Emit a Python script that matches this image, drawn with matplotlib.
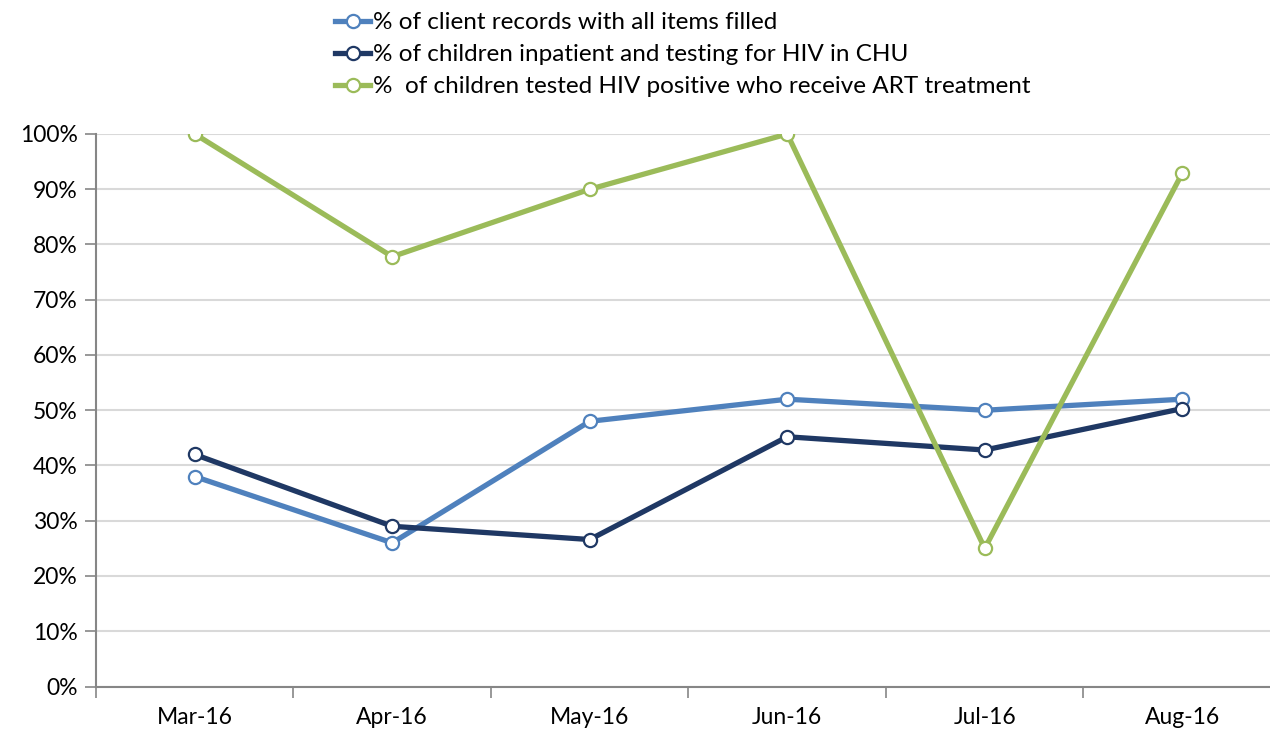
import matplotlib
matplotlib.use("Agg")
import matplotlib.pyplot as plt
from matplotlib.ticker import PercentFormatter

months = ["Mar-16", "Apr-16", "May-16", "Jun-16", "Jul-16", "Aug-16"]
records_filled = [0.38, 0.26, 0.48, 0.52, 0.50, 0.52]
inpatient_tested = [0.42, 0.29, 0.266, 0.452, 0.428, 0.503]
art_treatment = [1.00, 0.778, 0.90, 1.00, 0.25, 0.929]

labels = [
    "% of client records with all items filled",
    "% of children inpatient and testing for HIV in CHU",
    "%  of children tested HIV positive who receive ART treatment",
]
colors = ["#4F81BD", "#1F3864", "#9BBB59"]

plt.rcParams["font.family"] = ["Lato", "DejaVu Sans"]

fig = plt.figure(figsize=(12.7, 7.33), dpi=100)
ax = fig.add_axes([96 / 1270, 46.5 / 733, 1185 / 1270, 552.5 / 733])

x = range(len(months))
for vals, lab, col in zip([records_filled, inpatient_tested, art_treatment], labels, colors):
    ax.plot(x, vals, color=col, lw=3.8, marker="o", ms=9.5, mfc="white",
            mec=col, mew=1.6, label=lab, zorder=3)

ax.set_xlim(-0.5, len(months) - 0.5)
ax.set_ylim(0, 1)
ax.set_yticks([i / 10 for i in range(11)])
ax.yaxis.set_major_formatter(PercentFormatter(1.0, decimals=0))
ax.set_xticks(list(x))
ax.set_xticklabels(months)
ax.set_xticks([i - 0.5 for i in range(len(months) + 1)], minor=True)
ax.tick_params(axis="x", which="major", length=0, pad=15, labelsize=16.5)
ax.tick_params(axis="x", which="minor", length=8, width=1.2, color="#868686")
ax.tick_params(axis="y", length=8, width=1.2, color="#868686", labelsize=16.5, pad=5)
ax.grid(axis="y", color="#D9D9D9", lw=1.5, zorder=0)
for s in ["top", "right"]:
    ax.spines[s].set_visible(False)
for s in ["left", "bottom"]:
    ax.spines[s].set_color("#868686")
    ax.spines[s].set_linewidth(1.5)

fig.legend(loc="upper left", bbox_to_anchor=(323 / 1270, 1.0), frameon=False,
           fontsize=17.5, handlelength=1.45, handletextpad=0.1, labelspacing=0.45,
           borderaxespad=0.1)

fig.savefig("out.png", dpi=100)
